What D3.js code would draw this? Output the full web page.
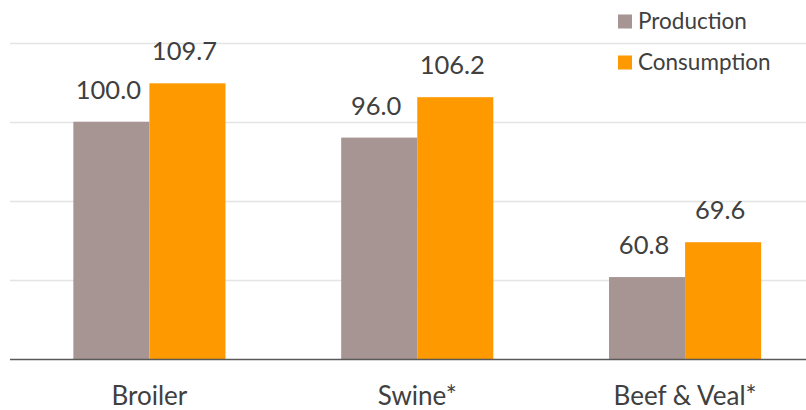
<!DOCTYPE html>
<html>
<head>
<meta charset="utf-8">
<script src="https://cdn.jsdelivr.net/npm/d3@7"></script>
<style>
  html, body { margin: 0; padding: 0; background: #fff; }
  svg { display: block; }
</style>
</head>
<body>
<svg id="chart" width="806" height="410"></svg>
<script>
const categories = ["Broiler", "Swine*", "Beef & Veal*"];
const seriesNames = ["Production", "Consumption"];
const production = [100.0, 96.0, 60.8];
const consumption = [109.7, 106.2, 69.6];
const yTicks = [40, 60, 80, 100, 120];
const colors = ["#a69592", "#ff9900"];

const W = 806, H = 410;
const font = "Lato, 'Open Sans', sans-serif";
const textColor = "#404040";
const svg = d3.select("#chart");

const x = d3.scaleBand().domain(categories).range([15.5, 819]).paddingInner(0.432).paddingOuter(0.216);
const x1 = d3.scaleBand().domain(seriesNames).range([0, x.bandwidth()]);
const y = d3.scaleLinear().domain([40, 120]).range([359.5, 42.5]);

// gridlines
svg.append("g").selectAll("line").data(yTicks.slice(1)).join("line")
  .attr("x1", 10).attr("x2", W)
  .attr("y1", d => Math.round(y(d)) + 0.5).attr("y2", d => Math.round(y(d)) + 0.5)
  .attr("stroke", "#e4e4e4").attr("stroke-width", 1.5);

const series = [production, consumption];
const data = [];
categories.forEach((c, i) => seriesNames.forEach((s, j) => data.push({c, s, v: series[j][i], j})));

svg.append("g").selectAll("rect").data(data).join("rect")
  .attr("x", d => x(d.c) + x1(d.s))
  .attr("width", x1.bandwidth())
  .attr("y", d => y(d.v))
  .attr("height", d => y(40) - y(d.v))
  .attr("fill", d => colors[d.j]);

svg.append("g").selectAll("text").data(data).join("text")
  .attr("x", d => x(d.c) + x1(d.s) + x1.bandwidth() / 2 - 3)
  .attr("y", d => y(d.v) - 23)
  .attr("text-anchor", "middle")
  .attr("font-family", font).attr("font-size", 25.5)
  .attr("fill", textColor)
  .text(d => d.v.toFixed(1));

// baseline axis
const xAxis = d3.axisBottom(x).tickSize(0).tickPadding(27);
const gx = svg.append("g").attr("transform", `translate(0,${y(40)})`).call(xAxis);
gx.select(".domain").attr("stroke", "#595959").attr("stroke-width", 1.5).attr("d", `M10,0H${W}`);
gx.selectAll("text").attr("font-family", font).attr("font-size", 26).attr("fill", textColor).attr("dy", "0.71em");

// legend
const legend = svg.append("g");
seriesNames.forEach((s, i) => {
  const ly = 21.5 + i * 41;
  legend.append("rect").attr("x", 618).attr("y", ly - 7).attr("width", 14).attr("height", 14).attr("fill", colors[i]);
  legend.append("text").attr("x", 638).attr("y", ly).attr("dy", "0.35em")
    .attr("font-family", font).attr("font-size", 22.5).attr("fill", textColor).text(s);
});
</script>
</body>
</html>
